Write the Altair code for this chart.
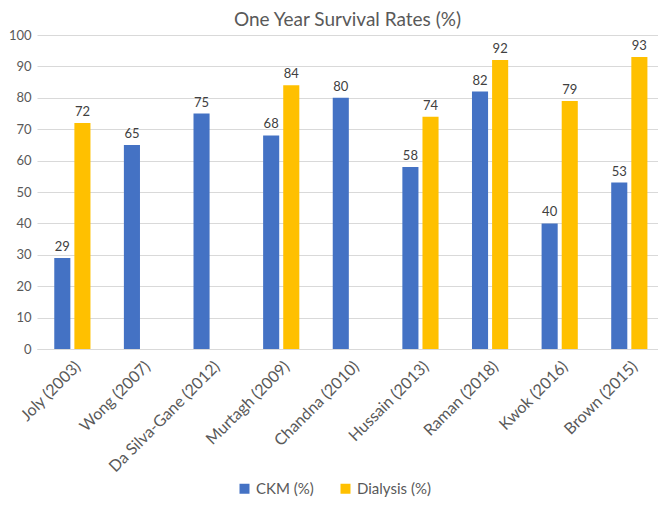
import altair as alt
import pandas as pd

studies = ["Joly (2003)", "Wong (2007)", "Da Silva-Gane (2012)", "Murtagh (2009)",
           "Chandna (2010)", "Hussain (2013)", "Raman (2018)", "Kwok (2016)", "Brown (2015)"]
ckm = [29, 65, 75, 68, 80, 58, 82, 40, 53]
dialysis = [72, None, None, 84, None, 74, 92, 79, 93]
series = ["CKM (%)", "Dialysis (%)"]

rows = []
for s, c, d in zip(studies, ckm, dialysis):
    rows.append({"study": s, "series": series[0], "value": c})
    if d is not None:
        rows.append({"study": s, "series": series[1], "value": d})
df = pd.DataFrame(rows)

FONT = "Lato"

x = alt.X("study:N", sort=studies, title=None,
          scale=alt.Scale(paddingInner=0.48, paddingOuter=0.2, align=0.62),
          axis=alt.Axis(labelAngle=-45, labelFontSize=16, labelColor="#595959",
                        labelFont=FONT, domainColor="#D9D9D9", ticks=False,
                        labelPadding=9))
xo = alt.XOffset("series:N", scale=alt.Scale(domain=series, paddingInner=0.2, paddingOuter=0))
y = alt.Y("value:Q", title=None,
          scale=alt.Scale(domain=[0, 100]),
          axis=alt.Axis(values=list(range(0, 101, 10)), labelFontSize=13, labelColor="#595959",
                        labelFont=FONT, gridColor="#D9D9D9", domain=False, ticks=False,
                        labelPadding=6))

bars = alt.Chart(df).mark_bar().encode(
    x=x, xOffset=xo, y=y,
    color=alt.Color("series:N", scale=alt.Scale(domain=series, range=["#4472C4", "#FFC000"]),
                    legend=alt.Legend(title=None, orient="none", legendX=200, legendY=446,
                                      direction="horizontal",
                                      symbolType="square", symbolSize=100, labelFontSize=15,
                                      labelColor="#595959", labelFont=FONT, columnPadding=24))
)
labels = alt.Chart(df).mark_text(dy=-11, fontSize=13, color="#404040", font=FONT).encode(
    x=x, xOffset=xo, y=y, text="value:Q"
)

chart = (bars + labels).properties(
    width=650, height=493,
    padding={"left": 0, "right": 0, "top": 3, "bottom": 26},
    autosize=alt.AutoSizeParams(type="fit", contains="padding"),
    title=alt.TitleParams("One Year Survival Rates (%)", fontSize=19, fontWeight="normal",
                          color="#595959", font=FONT, offset=-1),
).configure_view(stroke=None)

chart.save("out.html", embed_options={"renderer": "svg", "actions": False})
